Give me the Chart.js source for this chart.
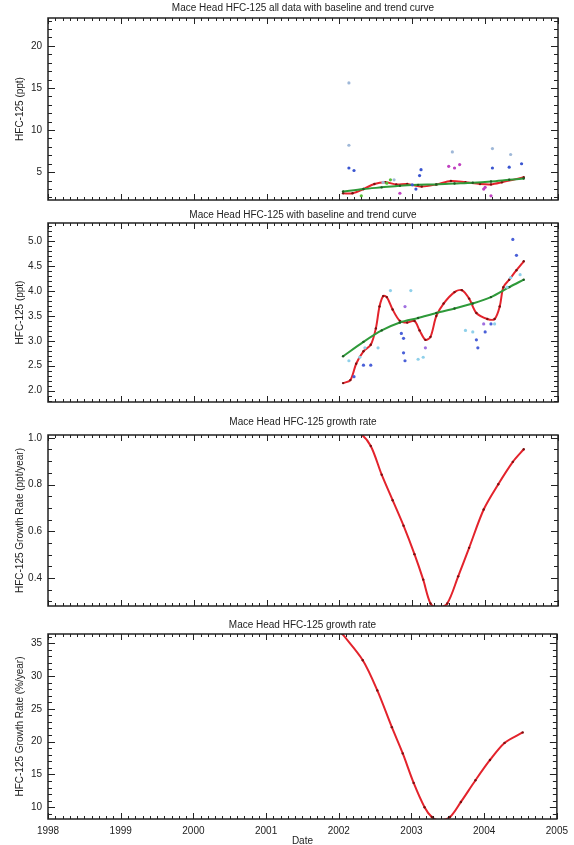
<!DOCTYPE html>
<html>
<head>
<meta charset="utf-8">
<script src="https://cdn.jsdelivr.net/npm/chart.js@4.4.0/dist/chart.umd.min.js"></script>
<style>
  html, body { margin: 0; padding: 0; background: #fff; }
  #wrap { position: relative; width: 574px; height: 845px; overflow: hidden; }
  canvas { position: absolute; left: 0; }
</style>
</head>
<body>
<div id="wrap">
  <canvas id="c1" width="574" height="212" style="top:0px"></canvas>
  <canvas id="c2" width="574" height="204" style="top:210px"></canvas>
  <canvas id="c3" width="574" height="204" style="top:414px"></canvas>
  <canvas id="c4" width="574" height="227" style="top:618px"></canvas>
</div>
<script>
// ===== data =====
const xYears = [1998, 1999, 2000, 2001, 2002, 2003, 2004, 2005];

// panel 1 : all data
const p1Ticks = [5, 10, 15, 20];
const p1BaseYears = [2002.05, 2002.18, 2002.33, 2002.48, 2002.63, 2002.78, 2002.93, 2003.13, 2003.33, 2003.53, 2003.73, 2003.93, 2004.08, 2004.23, 2004.53];
const p1Base      = [2.5, 2.5, 3.0, 3.6, 3.8, 3.55, 3.6, 3.3, 3.55, 3.95, 3.8, 3.6, 3.55, 3.8, 4.4];
const p1TrendYears = [2002.05, 2002.33, 2002.58, 2002.83, 2003.08, 2003.33, 2003.58, 2003.83, 2004.08, 2004.33, 2004.53];
const p1Trend      = [2.7, 3.0, 3.2, 3.4, 3.5, 3.55, 3.65, 3.75, 3.9, 4.1, 4.25];
const p1BlueYears  = [2002.13, 2002.2, 2003.0, 2003.05, 2003.12, 2004.1, 2004.33, 2004.5, 2003.1];
const p1Blue       = [5.5, 5.2, 3.5, 3.0, 5.3, 5.5, 5.6, 6.0, 4.6];
const p1LightYears = [2002.13, 2002.13, 2003.55, 2004.1, 2004.35, 2002.6, 2002.75];
const p1Light      = [15.6, 8.2, 7.4, 7.8, 7.1, 3.8, 4.1];
const p1PinkYears  = [2003.5, 2003.58, 2003.65, 2003.98, 2004.0, 2004.08, 2002.83];
const p1Pink       = [5.7, 5.5, 5.9, 3.0, 3.2, 2.2, 2.5];
const p1GreenYears = [2002.3, 2002.65, 2002.7];
const p1Green      = [2.2, 3.7, 4.1];

// panel 2 : baseline + trend
const p2Ticks = [2.0, 2.5, 3.0, 3.5, 4.0, 4.5, 5.0];
const p2BaseYears = [2002.05, 2002.15, 2002.23, 2002.33, 2002.43, 2002.5, 2002.55, 2002.6, 2002.65, 2002.73, 2002.83, 2002.93, 2003.03, 2003.1, 2003.18, 2003.25, 2003.33, 2003.43, 2003.58, 2003.68, 2003.78, 2003.88, 2004.03, 2004.13, 2004.2, 2004.25, 2004.33, 2004.43, 2004.53];
const p2Base      = [2.15, 2.21, 2.54, 2.79, 2.92, 3.25, 3.69, 3.9, 3.88, 3.63, 3.4, 3.37, 3.4, 3.21, 3.02, 3.08, 3.5, 3.75, 3.98, 4.02, 3.85, 3.56, 3.44, 3.44, 3.69, 4.08, 4.23, 4.42, 4.6];
const p2TrendYears = [2002.05, 2002.33, 2002.58, 2002.83, 2003.08, 2003.33, 2003.58, 2003.83, 2004.08, 2004.33, 2004.53];
const p2Trend      = [2.69, 2.98, 3.21, 3.37, 3.46, 3.56, 3.65, 3.75, 3.88, 4.08, 4.23];
const p2BlueYears  = [2002.2, 2002.33, 2002.43, 2002.85, 2002.88, 2002.88, 2002.9, 2003.88, 2003.9, 2004.0, 2004.08, 2004.38, 2004.43];
const p2Blue       = [2.28, 2.51, 2.51, 3.15, 3.05, 2.76, 2.6, 3.02, 2.86, 3.18, 3.34, 5.04, 4.72];
const p2LightYears = [2002.13, 2002.28, 2002.35, 2002.53, 2002.7, 2002.98, 2003.08, 2003.15, 2003.73, 2003.83, 2004.13, 2004.3, 2004.35, 2004.48];
const p2Light      = [2.6, 2.67, 2.86, 2.86, 4.01, 4.01, 2.63, 2.67, 3.21, 3.18, 3.34, 4.08, 4.27, 4.33];
const p2PurpleYears = [2002.9, 2003.98, 2003.18];
const p2Purple      = [3.69, 3.34, 2.86];

// panel 3 : growth rate ppt/year
const p3Ticks = [0.4, 0.6, 0.8, 1.0];
const p3Years = [2002.05, 2002.28, 2002.43, 2002.58, 2002.73, 2002.88, 2003.03, 2003.15, 2003.25, 2003.35, 2003.48, 2003.63, 2003.78, 2003.98, 2004.18, 2004.38, 2004.53];
const p3Rate  = [1.05, 1.02, 0.965, 0.842, 0.733, 0.624, 0.502, 0.393, 0.291, 0.271, 0.291, 0.407, 0.529, 0.693, 0.801, 0.897, 0.951];

// panel 4 : growth rate %/year
const p4Ticks = [10, 15, 20, 25, 30, 35];
const p4Years = [2002.05, 2002.33, 2002.53, 2002.73, 2002.88, 2003.03, 2003.18, 2003.28, 2003.38, 2003.53, 2003.68, 2003.88, 2004.08, 2004.28, 2004.53];
const p4Rate  = [36.4, 32.4, 27.8, 22.2, 18.2, 13.7, 10.0, 8.5, 8.0, 8.5, 10.8, 14.1, 17.2, 19.8, 21.4];

// ===== helpers =====
const FONT = "'Liberation Sans', Arial, sans-serif";
const pts = (xs, ys) => xs.map((x, i) => ({ x, y: ys[i] }));

function lineSet(xs, ys, color, dot) {
  return { data: pts(xs, ys), showLine: true, borderColor: color, borderWidth: 2,
           pointRadius: 1.2, pointBackgroundColor: dot, pointBorderWidth: 0, tension: 0.3 };
}
function dotSet(xs, ys, color) {
  return { data: pts(xs, ys), showLine: false, pointRadius: 1.6,
           pointBackgroundColor: color, pointBorderWidth: 0 };
}

// frame + inward ticks on all four sides (IDL look)
const frameTicks = {
  id: 'frameTicks',
  afterDatasetsDraw(chart, args, o) {
    const { ctx, chartArea: a, scales: { x, y } } = chart;
    ctx.save();
    ctx.strokeStyle = '#222';
    ctx.lineWidth = 1;
    ctx.beginPath();
    for (let v = x.min; v <= x.max + 1e-9; v += o.xMinor) {
      const px = Math.round(x.getPixelForValue(v)) + 0.5;
      const major = Math.abs(v - Math.round(v)) < 1e-6;
      const len = major ? 6 : 3;
      ctx.moveTo(px, a.bottom); ctx.lineTo(px, a.bottom - len);
      ctx.moveTo(px, a.top); ctx.lineTo(px, a.top + len);
    }
    const y0 = Math.ceil(y.min / o.yMinor - 1e-6) * o.yMinor;
    for (let v = y0; v <= y.max + 1e-9; v += o.yMinor) {
      const py = Math.round(y.getPixelForValue(v)) + 0.5;
      const major = o.yMajor.some(m => Math.abs(m - v) < 1e-6);
      const len = major ? 7 : 4;
      ctx.moveTo(a.left, py); ctx.lineTo(a.left + len, py);
      ctx.moveTo(a.right, py); ctx.lineTo(a.right - len, py);
    }
    ctx.stroke();
    ctx.lineWidth = 1.5;
    ctx.strokeRect(a.left, a.top, a.right - a.left, a.bottom - a.top);
    ctx.restore();
  }
};

function panel(id, datasets, o) {
  return new Chart(document.getElementById(id), {
    type: 'scatter',
    data: { datasets },
    options: {
      responsive: false,
      animation: false,
      layout: { padding: { left: 0, right: 16, top: 0, bottom: o.padBottom } },
      plugins: {
        legend: { display: false },
        tooltip: { enabled: false },
        title: {
          display: true, text: o.title, fullSize: false, color: '#222',
          font: { family: FONT, size: 10, weight: 'normal' },
          padding: { top: o.tTop, bottom: o.tBottom }
        },
        frameTicks: { xMinor: 0.1, yMinor: o.yMinor, yMajor: o.yTicks }
      },
      scales: {
        x: {
          type: 'linear', min: 1998, max: 2005, display: o.showX,
          grid: { display: false, drawTicks: false }, border: { display: false },
          afterBuildTicks: s => { s.ticks = xYears.map(v => ({ value: v })); },
          afterFit: s => { s.height = o.showX ? 26 : 0; },
          ticks: { color: '#222', padding: 6, maxRotation: 0, autoSkip: false,
                   font: { family: FONT, size: 10 }, callback: v => String(v) },
          title: { display: true, text: 'Date', color: '#222',
                   font: { family: FONT, size: 10 }, padding: { top: 0, bottom: -2 } }
        },
        y: {
          min: o.yMin, max: o.yMax,
          grid: { display: false, drawTicks: false }, border: { display: false },
          afterBuildTicks: s => { s.ticks = o.yTicks.map(v => ({ value: v })); },
          afterFit: s => { s.width = 48; },
          ticks: { color: '#222', padding: 6, font: { family: FONT, size: 10 },
                   callback: v => o.fmt(v) },
          title: { display: true, text: o.yTitle, color: '#222',
                   font: { family: FONT, size: 10 }, padding: { top: 14, bottom: 0 } }
        }
      },
      clip: 0
    },
    plugins: [frameTicks]
  });
}

const RED = '#e3232c', REDDOT = '#7a1010', GREEN = '#2f9a3a', GREENDOT = '#1d5a22';

panel('c1', [
  dotSet(p1LightYears, p1Light, '#9fb8d8'),
  dotSet(p1BlueYears, p1Blue, '#3a55d0'),
  dotSet(p1PinkYears, p1Pink, '#c040c0'),
  dotSet(p1GreenYears, p1Green, '#5abf3a'),
  lineSet(p1TrendYears, p1Trend, GREEN, GREENDOT),
  lineSet(p1BaseYears, p1Base, RED, REDDOT)
], { title: 'Mace Head HFC-125 all data with baseline and trend curve', yTitle: 'HFC-125 (ppt)',
     yMin: 1.7, yMax: 23.3, yTicks: p1Ticks, yMinor: 1, fmt: v => String(v),
     showX: false, tTop: 2, tBottom: 4, padBottom: 5 });

panel('c2', [
  dotSet(p2LightYears, p2Light, '#8fd0ea'),
  dotSet(p2BlueYears, p2Blue, '#4a60d8'),
  dotSet(p2PurpleYears, p2Purple, '#a070e0'),
  lineSet(p2TrendYears, p2Trend, GREEN, GREENDOT),
  lineSet(p2BaseYears, p2Base, RED, REDDOT)
], { title: 'Mace Head HFC-125 with baseline and trend curve', yTitle: 'HFC-125 (ppt)',
     yMin: 1.77, yMax: 5.37, yTicks: p2Ticks, yMinor: 0.1, fmt: v => v.toFixed(1),
     showX: false, tTop: -1, tBottom: 2, padBottom: 4 });

panel('c3', [
  lineSet(p3Years, p3Rate, RED, REDDOT)
], { title: 'Mace Head HFC-125 growth rate', yTitle: 'HFC-125 Growth Rate (ppt/year)',
     yMin: 0.28, yMax: 1.012, yTicks: p3Ticks, yMinor: 0.05, fmt: v => v.toFixed(1),
     showX: false, tTop: 2, tBottom: 7, padBottom: 3 });

panel('c4', [
  lineSet(p4Years, p4Rate, RED, REDDOT)
], { title: 'Mace Head HFC-125 growth rate', yTitle: 'HFC-125 Growth Rate (%/year)',
     yMin: 8.2, yMax: 36.4, yTicks: p4Ticks, yMinor: 1, fmt: v => String(v),
     showX: true, tTop: 1, tBottom: 3, padBottom: 0 });
</script>
</body>
</html>
